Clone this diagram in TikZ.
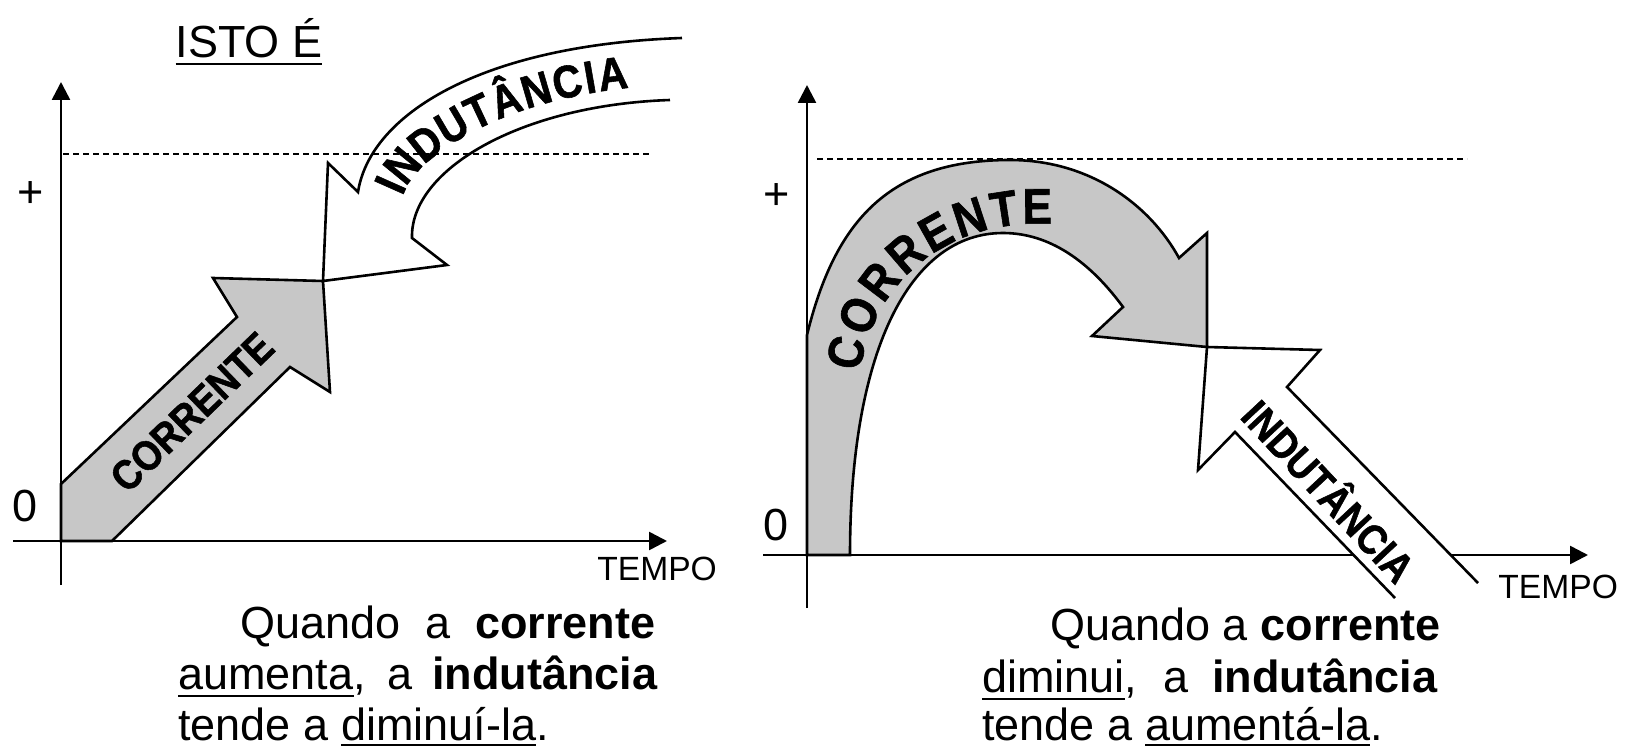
\documentclass[tikz,border=0pt]{standalone}
\usepackage{fontspec}
\setmainfont{Liberation Sans}
\newfontface\heavyfont{Liberation Sans Bold}[FakeBold=1.2,FakeStretch=0.88]
\usetikzlibrary{arrows.meta,decorations.text}
\definecolor{halftone}{gray}{0.78}
\newcommand\uln[2][4pt]{\setbox0\hbox{#2}\rlap{\rule[-#1]{\wd0}{1.1pt}}\box0}
\begin{document}
\begin{tikzpicture}[x=0.5pt,y=-0.5pt,
  axisline/.style={line width=1.3pt,-{Triangle[length=9pt,width=9pt]}},
  dashline/.style={line width=0.6pt,dash pattern=on 3pt off 2pt},
  outline/.style={line width=1.3pt,line join=miter},
  lbl/.style={font=\fontsize{22.5}{27}\selectfont,inner sep=0pt},
  tempo/.style={font=\fontsize{16.8}{20}\selectfont,inner sep=0pt,anchor=base west},
  captxt/.style={font=\fontsize{22.5}{27}\selectfont,inner sep=0pt,anchor=base west},
  arrowtxt/.style={font=\heavyfont\fontsize{21}{24}\selectfont,inner sep=0pt}]
\useasboundingbox (0,0) rectangle (1638,749);

% ---------------- left panel ----------------
\coordinate (L-xs) at (13,541);
\coordinate (L-xe) at (667,541);
\coordinate (L-ys) at (61,585);
\coordinate (L-ye) at (61,82);
\coordinate (L-ds) at (63,154);
\coordinate (L-de) at (650,154);
\draw[dashline] (L-ds) -- (L-de);
\draw[outline,fill=halftone] (61,541) -- (61,484) -- (237,317) -- (213,278) -- (323,281)
  -- (330,392) -- (290,367) -- (112,541) -- cycle;
\draw[axisline] (L-xs) -- (L-xe);
\draw[axisline] (L-ys) -- (L-ye);
\draw[outline] (682,38) .. controls (480,45) and (370,115) .. (358,192) -- (328,163)
  -- (323,281) -- (447,265) -- (412,238) .. controls (410,170) and (520,105) .. (670,100);
\node[arrowtxt,rotate=44] (L-corr) at (192,412) {CORRENTE};
\path[decorate,decoration={text along path,text align=fit to path,raise=-8pt,
  text={|\heavyfont\fontsize{23}{26}\selectfont|INDUTÂNCIA}}]
  (388,190) .. controls (405,140) and (500,85) .. (627,72);
\node[lbl] (L-zero) at (25,506) {0};
\node[lbl] (L-plus) at (31,195) {+};
\node[lbl,anchor=base] (isto) at (249,58) {\uln[3.5pt]{ISTO É}};
\node[tempo] (L-tempo) at (597,580) {TEMPO};
\node[captxt] (L-c1) at (240,638) {\makebox[207.5pt][s]{Quando a \textbf{corrente}}};
\node[captxt] (L-c2) at (178,689) {\makebox[239.5pt][s]{\uln{aumenta}, a \textbf{indutância}}};
\node[captxt] (L-c3) at (178,740) {tende a \uln[3pt]{diminuí-la}.};

% ---------------- right panel ----------------
\coordinate (R-xs) at (763,555);
\coordinate (R-xe) at (1588,555);
\coordinate (R-ys) at (807,608);
\coordinate (R-ye) at (807,85);
\coordinate (R-ds) at (817,159);
\coordinate (R-de) at (1467,159);
\draw[dashline] (R-ds) -- (R-de);
\draw[outline,fill=halftone] (807,555) -- (807,335) .. controls (835,220) and (890,160) .. (1010,160)
  .. controls (1090,160) and (1150,205) .. (1179,258) -- (1207,233) -- (1207,347) -- (1092,336)
  -- (1123,307) .. controls (1090,262) and (1050,233) .. (1003,233)
  .. controls (910,233) and (850,350) .. (850,555) -- cycle;
\draw[axisline] (R-xs) -- (R-xe);
\draw[axisline] (R-ys) -- (R-ye);
\fill[white] (1207,347) -- (1320,350) -- (1287,387) -- (1478,583) -- (1395,598) -- (1235,432)
  -- (1198,470) -- cycle;
\draw[outline] (1478,583) -- (1287,387) -- (1320,350) -- (1207,347) -- (1198,470) -- (1235,432)
  -- (1395,598);
\node[arrowtxt,rotate=-47] (R-ind) at (1331,489) {INDUTÂNCIA};
\path[decorate,decoration={text along path,text align=fit to path,
  text={|\heavyfont\fontsize{25}{28}\selectfont|CORRENTE}}]
  (860,372) .. controls (872,285) and (945,218) .. (1052,224);
\node[lbl] (R-zero) at (776,525) {0};
\node[lbl] (R-plus) at (777,197) {+};
\node[tempo] (R-tempo) at (1498,598) {TEMPO};
\node[captxt] (R-c1) at (1050,640) {Quando a \textbf{corrente}};
\node[captxt] (R-c2) at (982,692) {\makebox[227.5pt][s]{\uln{diminui}, a \textbf{indutância}}};
\node[captxt] (R-c3) at (982,740) {tende a \uln[3pt]{aumentá-la}.};
\end{tikzpicture}
\end{document}
